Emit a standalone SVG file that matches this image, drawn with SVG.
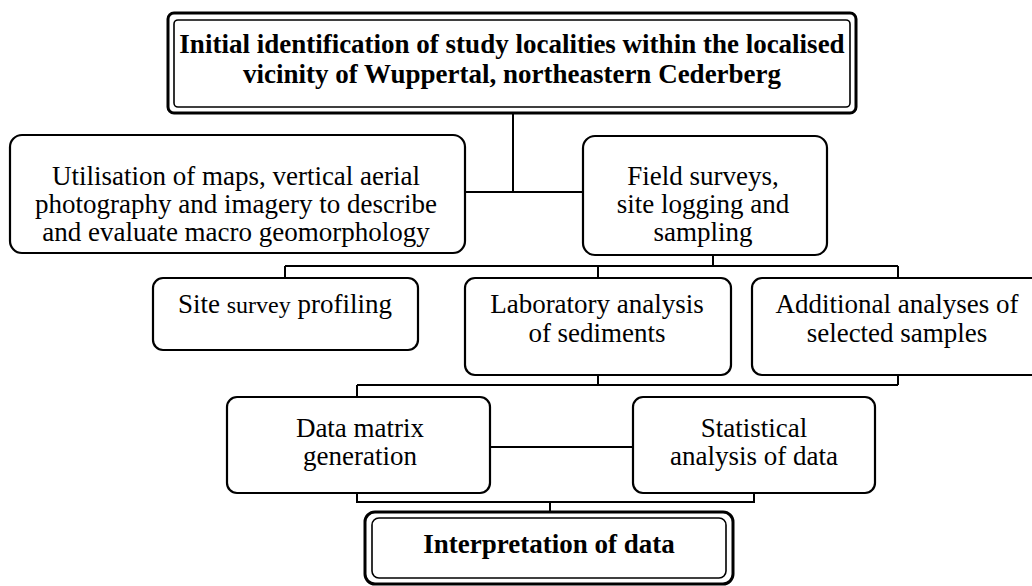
<svg xmlns="http://www.w3.org/2000/svg" width="1032" height="586" viewBox="0 0 1032 586">
<style>
.box{fill:#fff;stroke:#000;stroke-width:2.2}
.outer{fill:#fff;stroke:#000;stroke-width:3}
.inner{fill:none;stroke:#000;stroke-width:1.6}
.t{font-family:"Liberation Serif","Times New Roman",serif;font-size:27px;fill:#000;text-anchor:middle}
.b{font-weight:bold}
.c{fill:none;stroke:#000;stroke-width:2}
</style>
<rect width="1032" height="586" fill="#fff"/>
<g id="connectors">
<path class="c" d="M513,113V192M465,192H583"/>
<path class="c" d="M713,255V266M285,266H898M285,266V278M598,266V278M898,266V278"/>
<path class="c" d="M598,375V385M898,375V385M357,385H898M357,385V397"/>
<path class="c" d="M490,447H633"/>
<path class="c" d="M357,493V502H754V493M550,502V512"/>
</g>
<g id="n1">
<rect class="outer" x="168" y="13" width="688" height="100" rx="6"/>
<rect class="inner" x="174" y="20" width="676" height="87" rx="4"/>
<text class="t b" x="512" y="53" font-size="26.5">Initial identification of study localities within the localised</text>
<text class="t b" x="512" y="83" font-size="26.5">vicinity of Wuppertal, northeastern Cederberg</text>
</g>
<g id="n2">
<rect class="box" x="10" y="135" width="455" height="118" rx="12"/>
<text class="t" x="236" y="185">Utilisation of maps, vertical aerial</text>
<text class="t" x="236" y="213">photography and imagery to describe</text>
<text class="t" x="236" y="241">and evaluate macro geomorphology</text>
</g>
<g id="n3">
<rect class="box" x="583" y="136" width="244" height="119" rx="12"/>
<text class="t" x="703" y="185">Field surveys,</text>
<text class="t" x="703" y="213">site logging and</text>
<text class="t" x="703" y="241">sampling</text>
</g>
<g id="n4">
<rect class="box" x="153" y="278" width="265" height="72" rx="10"/>
<text class="t" x="285" y="313">Site <tspan font-size="24">survey</tspan> profiling</text>
</g>
<g id="n5">
<rect class="box" x="465" y="278" width="266" height="97" rx="10"/>
<text class="t" x="597" y="313">Laboratory analysis</text>
<text class="t" x="597" y="342">of sediments</text>
</g>
<g id="n6">
<rect class="box" x="752" y="278" width="300" height="97" rx="10"/>
<text class="t" x="897" y="313">Additional analyses of</text>
<text class="t" x="897" y="342">selected samples</text>
</g>
<g id="n7">
<rect class="box" x="227" y="397" width="263" height="96" rx="10"/>
<text class="t" x="360" y="437">Data matrix</text>
<text class="t" x="360" y="465">generation</text>
</g>
<g id="n8">
<rect class="box" x="633" y="397" width="242" height="96" rx="10"/>
<text class="t" x="754" y="437">Statistical</text>
<text class="t" x="754" y="465">analysis of data</text>
</g>
<g id="n9">
<rect class="outer" x="365" y="512" width="368" height="72" rx="10"/>
<rect class="inner" x="372" y="518" width="354" height="60" rx="7"/>
<text class="t b" x="549" y="553">Interpretation of data</text>
</g>
</svg>
